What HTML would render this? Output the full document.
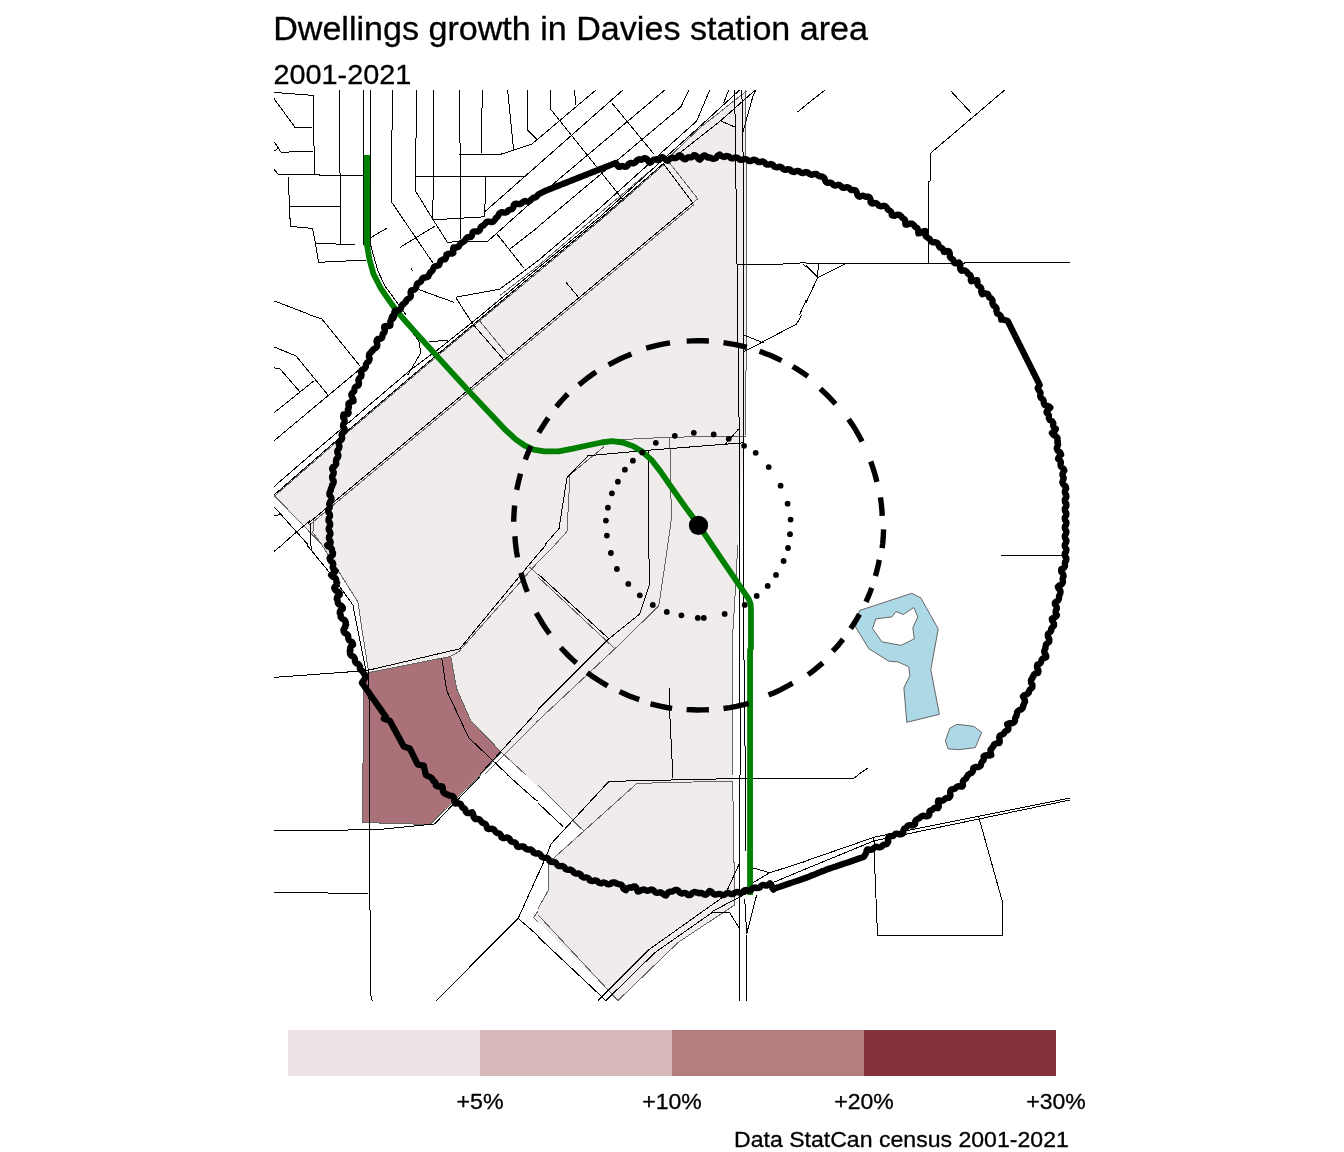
<!DOCTYPE html>
<html lang="en"><head><meta charset="utf-8"><title>Dwellings growth in Davies station area</title>
<style>
html,body{margin:0;padding:0;background:#fff;}
body{width:1344px;height:1152px;overflow:hidden;position:relative;font-family:"Liberation Sans",Arial,sans-serif;color:#000;}
svg{position:absolute;left:0;top:0;}
text{font-family:"Liberation Sans",Arial,sans-serif;fill:#000;stroke:#000;stroke-width:0.3px;}
</style></head><body>
<svg width="1344" height="1152" viewBox="0 0 1344 1152">
<rect width="1344" height="1152" fill="#fff"/>
<defs><clipPath id="mapclip"><rect x="274" y="90" width="797" height="911"/></clipPath></defs>
<g clip-path="url(#mapclip)">

<path d="M746.5 91 L700 127.8 L663 162.5 L664 163.5 L600 219.6 L429.8 361.4 L349.9 429.3 L274.4 495.7 L321.9 544.8 L357.9 601.9 L361.9 628.9 L367.9 670.8 L450.7 656.4 L456.7 688.8 L470.7 720.7 L501.7 752.6 L583.9 830.9 L554 857.9 L548 862.8 L548 890.8 L534 917.8 L617.9 1000.6 L677.8 942.7 L734.7 904.8 L732.7 781 L732.7 634.8 L737 560 L743.5 446 L745.5 437 L746.5 91 Z" fill="#f1ecec"/>
<path d="M363.9 672.8 L450.7 656.8 L456.7 688.8 L470.7 720.7 L501.7 752.6 L429.8 824.5 L362.3 822.5 L362.9 774.6 Z" fill="#aa7278"/>
<path d="M859.5 610.5 L911.8 593.3 L920.8 597.9 L938.2 628.9 L930.8 669.8 L939.4 714.3 L906.8 722.3 L903.9 687.8 L909.8 675.8 L908.8 666.8 L897.9 661.8 L888.9 661.2 L868.9 648.8 L855.5 626.9 Z M875.9 618.9 L891.9 616.9 L895.9 611.5 L903.3 614.5 L913.8 607.5 L917.8 616.9 L912.8 627.9 L914.4 638.8 L900.9 645.4 L881.9 641.8 L872.5 628.5 Z" fill="#add8e6" fill-rule="evenodd" stroke="#666" stroke-width="1"/>
<path d="M948.2 749 L945.4 740.7 L949.8 728.3 L956.8 724.3 L973.7 726.3 L981.7 732.3 L975.3 747.6 L959.8 749.6 Z" fill="#add8e6" stroke="#666" stroke-width="1"/>
<g fill="none" stroke="#666" stroke-width="1" shape-rendering="crispEdges">
<path d="M745.7 90 L746.7 314.6 M668.8 161.9 L697.8 198.8 L692.8 202.8 M479.7 321 L507.6 354.9 M274.4 495.7 L321.9 544.6 M313.9 518.6 L312.9 532.6 L321.9 544.6 M746.3 315 L745.7 434.8 M616.9 439.8 L669.8 437.2 L745.7 436.2 M669.8 437.2 L671.4 518.6 L667.8 544.6 M603.9 446.8 L570 474.7 L567 531.6 L555 544.6 M321.9 545 L357.9 601.9 L361.9 628.9 L368.3 669.8 M367.9 672.8 L450.7 656.4 L458.7 651.8 L538 562 M484.7 774.6 L538 720.7 M501.7 752.6 L525.6 774.6 M529.6 567 L538 574.9 M363.9 672.8 L362.9 774.6 M450.7 656.4 L456.7 688.8 L470.7 720.7 L501.7 752.6 L479.7 774.6 M667.8 545 L658.8 605.9 L614.9 648.8 L538 720.7 M538 576.9 L614.9 648.8 M538 562 L555 545 M737.7 545 L735.7 584.9 L732.7 634.8 L732.7 774.6 M538 910.8 L533.6 917.8 L538 921.7 M362.3 775 L362.3 822.5 L429.8 824.5 L480.7 775 M732.7 781 L636.9 783.4 L554 857.9 L548 862.8 L548 890.8 L538 908.8 M538 785 L583.9 830.9 M572.9 821.3 L583.9 830.9 M538 914.8 L617.9 1000.6 L677.8 942.7 L734.7 904.8 L732.7 781 M274.4 496.2 L349.9 430.3 L429.8 362.4 L600 220.6 L664 164.5 M500 295.5 L538 265.9 L600 212.9 L650 171 M664 162 L700 127.8 L746.5 91 M309.5 525 L694 204.5"/>
</g>
<g fill="none" stroke="#000" stroke-width="1" shape-rendering="crispEdges">
<path d="M274 92.4 L313.5 95.4 L314.3 175.2 M274 98.6 L295.4 127.9 L311.9 127.9 M274.4 141.9 L281 152.3 L312.9 151.1 M274.4 150.9 L278 148.5 M274 169.3 L278.4 174.4 L314.3 174.8 L339.9 175.8 L363.5 175.8 M339.5 90 L339.5 166.9 L340.3 175.8 L340.3 244.3 M363.3 90 L363.3 244.7 M370.5 90 L370.5 244.7 L377.8 270.7 L384.8 285.7 L397.8 303.6 L405.8 314.6 M288.4 176.8 L289.4 206.2 L290.4 226.4 L312.5 228.4 L315.5 243.7 L318.5 262.3 L365.9 260.1 M289.4 206.2 L340.3 206.2 M315.5 243.7 L354.9 244.3 M392.4 90 L392.4 129.9 L391.4 130.9 L391.4 201.8 L432.8 262.7 M416.4 90 L416.4 137.9 L415.4 138.9 L415.4 190.8 L432.8 219.2 L447.3 242.1 L487.7 241.3 L538 196.4 M433.8 90 L433.8 198.8 L432.8 200.8 L432.8 219.2 M459.7 90 L459.7 142.9 L460.7 143.9 L460.7 238.7 M415.4 176.4 L525.6 176.4 M485.7 176.4 L484.7 216.8 L433.8 219.8 M484.7 211.8 L538 164.9 M482.3 90 L481.3 152.9 M507.6 90 L513.6 149.9 M527.6 90 L527.6 129.9 L537.6 139.9 M459.3 154.3 L500.7 154.3 L531.6 144.3 L538 138.9 M370.5 237.7 L386.8 228.2 M400.2 247.3 L434.8 226.2 M496.7 233.7 L523.6 267.7 M509.6 249.3 L538 227.2 M455.7 297.2 L499.7 289.2 L538 260.7 M455.7 297.5 L473.2 324.6 L503.7 359.6 M418.8 289.6 L453.7 302.2 M274.4 301 L309.9 314.6 M411.8 268.3 L412.2 270.7 M550.4 90 L550.4 109 L623.9 200.8 M574.5 90 L575.9 105 M538 138.9 L595.9 90 M538 164.9 L622.9 90 M611.9 103 L653.8 153.9 M538 196.8 L664.8 90 M688.8 90 L680.8 107 L538 226.8 M709.7 90 L696.8 120.9 L600 207.9 L538 260.7 M728.7 90 L723.7 103 M734.7 90 L735.7 164.9 L737.7 314.6 M741.7 90 L742.9 124.9 L743.7 314.6 M755.7 90 L752.7 97 L742.7 132.9 M719.7 120.5 L734.7 126.9 M662.8 162.9 L692.8 202.8 M566 282.3 L577.9 296.6 M737.7 264.3 L777.6 264.3 L806 262.7 M803.6 264.3 L806 267.1 M797.6 112 L806 105 M806 300.6 L799.6 314.6 M806 105 L825 90 M950.8 91 L970.8 112.6 M1004.7 90 L930.4 153.3 L930.4 180.8 L928.8 181.8 L928.4 262.7 M806 263.1 L964.8 263.1 L964.8 262.1 L1070 262.1 M806 265.7 L817.6 277.1 M818.4 263.7 L817.6 277.1 M844.9 264.1 L817.6 277.7 L806 302.6 M309.9 315 L321.9 319 L359.9 365.9 M274 346.9 L296 355.9 L327.9 394.9 M274 367.9 L280 368.9 L300 391.9 M274 412.8 L313.9 380.9 M274 440.8 L364.9 364.9 M399.8 315 L418.8 341 L420.8 352.9 L407.8 374.9 M428.8 341.6 L447.7 340.4 M437.7 352.9 L441.7 351.9 M274 506.7 L307.9 544.6 M274 515.3 L282 514.7 M282 544.6 L309.9 520.6 L310.9 544.6 M737.7 315 L738.7 404.8 L739.7 442.8 L739.7 544.6 M743.7 315 L743.7 544.6 M743.7 335 L763.7 343 M743.7 351.9 L796.6 324 L801.6 315 M587.9 455.8 L645.8 450.4 L743.7 442.8 M648.8 450.4 L648.8 544.6 M725.7 443.8 L738.7 428.8 M587.9 455.8 L567 477.7 L559 528.6 L545 544.6 M274 551.4 L282 545 M306.9 545 L329.9 573 L352.9 604.9 L357.9 630.9 L365.9 670.8 M310.9 545 L311.9 551 M274 677.4 L363.9 670.8 M365.9 670.8 L459.7 648.8 L538 554 M368.9 668.8 L369.3 774.6 M441.7 657.8 L446.7 690.7 L468.7 737.7 L507.6 774.6 M479.7 774.6 L538 710.7 M739.7 545 L739.7 662.8 L740.5 774.6 M743.7 545 L743.7 656.8 L744.5 664.8 L744.5 724.7 L745.7 774.6 M648.8 545 L649.4 584.9 L639.8 613.9 L608.9 638.8 L538 709.7 M538 573.9 L608.9 638.8 M538 554 L546 545 M669.4 687.8 L669.8 714.7 L672.8 774.6 M1001.1 555 L1063.6 555 M857.9 774.6 L867.9 768.2 M369.5 775 L369.5 908.8 L370.5 910.8 L370.5 993.6 L372.2 1000.6 M274 830.3 L374.8 829.9 L434.8 823.9 L449.7 807.9 L479.7 777 M274 892.4 L314.9 892.8 L367.9 893.6 M436.2 1000.6 L518.2 918.4 L538 874.4 M518.2 918.4 L538 935.7 M507.6 775 L535.6 800 L538 801 M538 803 L563 826.5 M806 778 L734.7 778.6 L608.9 781.4 L551 843.9 L546 856.9 L538 874.8 M672.2 775 L672.2 778 M538 936.7 L605.9 1000.6 M597.9 1000.6 L648.8 949.7 L724.7 895.8 L739.7 862.8 M605.9 1000.6 L654.8 952.7 L711.7 912.8 L729.7 912.8 L739.7 928.7 M711.7 911.8 L743.7 894.8 L806 868.8 M752.7 882.8 L769.7 872.8 L806 861.2 M752.7 867.8 L769.7 872.8 M744.7 898.8 L746.7 933.7 L756.7 894.8 M739.7 775 L739.7 1000.6 M745.7 775 L745.7 850.9 M746.7 934.7 L746.7 1000.6 M806 778 L853.9 778 L858.3 775 M806 860.9 L873.9 837.3 L1070 798 M806 868.8 L873.9 840.9 L1070 800 M873.9 837.3 L874.9 870.8 L877.5 935.1 L1002.7 935.1 L1002.7 902.8 L978.7 816.9 M274.4 494.7 L349.9 428.8 L429.8 360.9 L538 270.6 L600 219.1 L664 163 L681.3 151.7 L720 121.3 L755 90.2 M274 486.6 L310 455.5 L410 370.4 L437 350.3 L471.7 322.8 L538 268 L600 216.8 L662 160.5 L700 126.3 L739.4 90.2 M307.9 523.6 L692.8 202.8"/>
</g>
<path d="M366.9 155 L367.1 245.6 L369.5 259.7 L373.4 273.8 L380.5 287.8 L389.1 300.3 L396.9 311.3 L412.5 329.2 L435.8 354.9 L467.7 389.9 L490.7 414.2 L505 429.5 L515.7 439.3 L524.6 445.5 L533.6 449.6 L544.3 451.4 L558.6 451.3 L572.9 448.6 L587.1 445.5 L601.4 442.5 L612.1 441.1 L622.9 442.5 L633.6 446.4 L642.5 451.8 L651.4 459.8 L660.4 471.4 L672.9 489.3 L685.4 507.1 L698.8 525.3 L720 556.8 L748.6 598.8 L750.6 604 L751 610 L751 648 L750.05 650 L750.05 895" fill="none" stroke="#008000" stroke-width="5.8" stroke-linejoin="round"/>
<path d="M366.9 155 L367 246" fill="none" stroke="#008000" stroke-width="6.2"/>
<path d="M329.9 544.6 L330.7 543.1 L330.6 541.7 L329.8 540.2 L329 538.7 L328.9 537.2 L329.6 535.7 L330.4 534.2 L330.4 532.8 L329.7 531.3 L328.7 529.8 L328.7 528.4 L329.3 526.9 L330.2 525.4 L330.2 523.9 L329.6 522.4 L328.5 521 L328.5 519.5 L328.9 518 L330 516.5 L330 515 L329.5 513.6 L328.3 512.1 L328.2 510.6 L328.6 509.1 L329.7 507.8 L329.7 506.3 L329.3 504.8 L329.2 503.6 L330.1 502.6 L330.3 501.1 L331.4 499.7 L331.4 498 L330.8 496.5 L329.5 495 L329.4 493.3 L329.9 491.8 L330.8 490.4 L330.7 488.9 L331.3 487.7 L332.1 486.5 L332.1 485 L333.3 483.8 L333.7 482.3 L333.7 480.7 L332.5 479.2 L332.1 477.7 L332.1 476.2 L333.3 474.7 L333.7 473.2 L333.7 471.8 L332.5 470.1 L332.1 468.5 L332.8 467.1 L334.6 466.2 L335.6 465 L336.3 463.7 L335.9 461.9 L336.1 460.5 L336.3 459.1 L337.6 457.9 L338.2 456.5 L338.4 455 L337.6 453.4 L337.2 451.9 L337.4 450.5 L338.5 449.2 L339.3 447.8 L339.5 446.4 L338.9 444.8 L338.6 443.2 L339.1 441.8 L340.4 440.6 L341.7 439.5 L342.2 438.1 L341.9 436.4 L341.6 434.8 L342.1 433.4 L343.3 432.2 L344.7 430.9 L344.7 429.4 L344.1 427.9 L343.1 426.4 L343.1 425 L343.6 423.5 L344.7 422.1 L344.7 420.6 L344.3 419.2 L343.1 417.5 L343.2 415.9 L343.5 414.5 L345.7 414.6 L347.1 414.2 L348.4 413.7 L348.7 412.7 L347.9 411 L347.8 409.4 L348.8 408.1 L348.9 406.6 L348.4 405 L348.5 403.5 L349.7 402.5 L351.4 401.8 L353.6 401.2 L353.5 399.5 L352.5 397.7 L351.5 396 L351.3 394.4 L352.2 393 L353.5 392 L354.3 391 L354.4 389.4 L354.7 387.9 L355.5 386.8 L357 386 L358.6 385.3 L359 383.8 L358.9 382.2 L358.3 380.4 L358.7 379.1 L359.6 377.8 L361.1 376.7 L361.5 375.4 L361.5 373.8 L360.8 372 L361.2 370.5 L362.3 369.5 L364.1 368.9 L365.1 367.9 L365.9 366.7 L365.8 365 L366.3 363.7 L367.2 362.6 L368.6 361.5 L369.4 360.2 L369.7 358.6 L368.9 356.8 L369 355.1 L369.5 353.6 L370.9 352.7 L371.4 351.4 L372.6 350.8 L373 349.7 L373.9 348.9 L375.2 348.4 L376.2 347.5 L377.1 346.4 L377.4 344.9 L377 343.3 L376.5 341.5 L376.8 340 L377.7 338.9 L379.7 339 L380.9 338.5 L382 337.8 L382.4 336.7 L382.4 335.2 L382.7 333.9 L384.1 332.9 L384.7 331.5 L384.9 330.2 L384.2 328.2 L384.2 326.5 L385.4 326 L387.4 326.1 L389.1 326 L390.4 325.5 L390.5 323.7 L390.3 321.7 L390.8 320.4 L392.1 319.3 L393.4 318.1 L394 316.7 L393.7 315 L392.2 316.3 L391.6 318.1 L393.5 317.2 L394.2 315.9 L394.5 314.2 L394.3 312.1 L395.1 310.7 L396.7 310.3 L398.7 310.3 L399.9 309.6 L400.9 308.7 L401.2 307.2 L401.7 305.8 L402.4 304.5 L403.8 304 L404.6 302.8 L405.8 302.1 L406.1 300.6 L407 299.5 L408.2 298.8 L409.4 298 L410.5 296.9 L411 295.5 L410.7 293.7 L410.6 292 L411.1 290.6 L412.9 290 L414.6 289.6 L415.6 288.6 L416.2 287.3 L416.5 285.7 L416.9 284.5 L417.4 283.4 L418.6 282.9 L420.1 282.2 L421.2 281.2 L421.6 279.4 L422.6 278.2 L423.9 277.4 L425.7 277.6 L427.2 277.1 L428.4 276.3 L428.9 274.9 L429.6 273.8 L430.2 272.3 L431.6 271.5 L432.6 270.3 L433.2 268.8 L433.6 267.5 L434.4 266.6 L435.6 266 L437.3 265.9 L438.7 265.4 L439.5 264.2 L440 262.6 L440.4 261 L441.6 260.1 L443.1 259.5 L445 259.4 L445.8 258.2 L446.3 256.7 L446.4 254.6 L447.9 253.9 L449.8 253.6 L452 253.6 L453.4 252.9 L453.2 250.8 L453.1 248.9 L453.5 247.5 L455.5 247.5 L457.4 247.3 L458.8 246.6 L459.5 244.9 L460.7 243.9 L461.3 242.7 L462.5 242.3 L463.5 241.6 L464.8 240.8 L465.5 239.4 L466.4 238 L467.6 237.2 L469.5 237.1 L471.2 236.8 L472 235.6 L472.3 233.8 L472.6 232 L474.1 231.3 L476 231.4 L477.8 231.5 L479.2 230.9 L480.1 229.5 L480.4 227.8 L481.1 226.7 L482.3 225.9 L483.6 225.5 L484.3 224.3 L485.4 223.5 L486.4 222.1 L488 221.6 L489.7 221.7 L491.5 222.2 L493.1 221.7 L494.2 220.6 L495.2 219.5 L495.8 218 L497 217.3 L498 216.3 L498.6 214.8 L499.3 213.4 L500.6 212.6 L502.2 212.1 L504.1 212.7 L505.6 212.6 L507.1 212.1 L508.1 210.5 L509.3 209.8 L510.8 209.5 L512.1 209.1 L512.9 208.2 L513.5 207 L513.6 205.2 L514.6 204.1 L516.2 203.6 L518 204 L519.7 204.2 L521.1 203.8 L522.3 202.4 L523.6 201.4 L525.1 200.9 L526.8 201.5 L528.5 201.6 L530 201.1 L531 199.6 L532.2 198.8 L533.3 197.7 L535.1 197.6 L536.4 196.8 L537.4 195.5 L538.3 194.3 L539.7 193.7 L541 193 L542.3 192.3 L543.7 191.7 L545 191 L546.4 190.4 L547.8 189.9 L549.2 189.3 L550.6 188.8 L552 188.2 L553.3 187.7 L554.7 187.1 L556.1 186.6 L557.5 186 L558.9 185.5 L560.3 184.9 L561.7 184.4 L563.1 183.8 L564.5 183.3 L565.9 182.7 L567.2 182.2 L568.6 181.6 L570 181.1 L571.4 180.5 L572.8 180 L574.2 179.4 L575.6 178.9 L577 178.3 L578.4 177.8 L579.8 177.2 L581.1 176.7 L582.5 176.1 L583.9 175.6 L585.3 175 L586.7 174.5 L588.1 173.9 L589.5 173.4 L590.9 172.8 L592.3 172.3 L593.7 171.7 L595 171.2 L596.4 170.6 L597.8 170.1 L599.2 169.5 L600.6 169 L602 168.4 L603.4 167.9 L604.8 167.3 L606.2 166.8 L607.6 166.2 L608.9 165.7 L610.3 165.1 L611.7 164.6 L613.1 164 L614.5 163.5 L615.9 162.9 L616.8 164.4 L617.7 165.9 L618.7 166.9 L620 166.9 L621.5 166.2 L622.9 165.9 L624.5 166.8 L626.2 166.7 L627.5 165.9 L628.4 164.1 L629.7 163.3 L631.2 162.9 L633 163.4 L634.5 162.9 L635.8 162.1 L636.7 160.4 L638 159.6 L639.5 159.2 L641.2 159.8 L642.5 159.3 L643.8 158.4 L645.1 158.1 L646.4 158.7 L647.5 159.7 L648.5 161.6 L649.7 162.7 L651.3 162.1 L652.7 160.3 L654.1 159.6 L655.6 159.4 L657.5 160.1 L658.9 159.7 L660.3 158.7 L661.8 157.1 L663.3 157.6 L664.8 158.8 L666.3 160.2 L667.8 160.7 L669.3 159.3 L670.7 158.1 L672.1 157.6 L673.9 158.2 L675.5 158.2 L676.9 157.6 L678.3 155.9 L679.9 155.1 L681.1 155.9 L682.1 157.7 L683.3 158.7 L684.5 159.4 L685.8 159.2 L687 157.8 L688.3 157.2 L689.8 157.4 L691.3 157.4 L692.6 156.8 L693.8 155.2 L695.1 155.2 L696.3 155.9 L697.4 157.3 L698.5 159 L699.8 159.7 L701 158.6 L702.1 156.8 L703.2 155.9 L704.4 155.3 L705.7 155.7 L706.7 156.9 L707.9 157.7 L709.4 157.4 L710.7 157.7 L711.7 158.5 L713.1 158.8 L714.5 158.7 L715.9 158.1 L717 156.5 L718.2 155.2 L719.6 154.5 L721.3 155.9 L722.9 156.7 L724.4 157 L726.2 156 L727.8 156.1 L729.3 156.7 L730.6 158.1 L732.1 158.4 L733.6 158.3 L735.3 157.4 L736.8 157.6 L738.3 158.3 L739.6 159.7 L741.1 159.9 L742.7 159.7 L744.3 158.9 L745.8 159.1 L747.2 159.7 L748.6 160.9 L750.1 161.1 L751.7 160.7 L753.3 159.7 L754.8 159.9 L756.2 160.5 L757.6 161.7 L759 162.1 L760.5 162 L762.2 161.4 L763.6 161.8 L764.9 162.8 L766 164.2 L767.4 164.7 L769 164.6 L770.7 164 L772.1 164.4 L773.4 165.3 L774.5 166.8 L776 167.2 L777.5 167.3 L779.2 166.6 L780.6 166.9 L781.9 167.6 L783 169.1 L784.4 169.7 L785.8 169.9 L787.5 169.1 L789 169.3 L790.4 169.8 L791.5 171.4 L792.9 171.9 L794.4 172 L796 171.1 L797.5 170.9 L798.9 171.1 L800.2 172.3 L801.6 173 L803 173.2 L804.6 172.5 L806.1 172 L807.6 172.3 L809 173.6 L810.3 174.5 L811.8 174.8 L813.5 174.1 L815.2 173.8 L816.7 174.1 L817.9 175.5 L819.2 176.2 L820.6 176.5 L822.2 176.5 L823.5 177.2 L824.5 178.2 L824.9 179.9 L825.5 181.4 L826.6 182.5 L828 182.9 L829.8 182.5 L831.2 182.8 L832.4 183.9 L833.5 185.1 L835 185.5 L836.6 185.3 L838.3 184.7 L839.7 185.1 L841 186.2 L842.2 187.5 L843.6 187.9 L845.2 187.6 L846.9 187.1 L848.4 187.5 L849.6 188.5 L850.7 189.8 L852.1 190.1 L853.8 190 L855.4 190.3 L856.4 191.5 L857 193.2 L857.4 195.1 L858.5 196.3 L859.9 196.8 L861.7 195.8 L863.3 195.6 L864.6 196.5 L866.1 196.8 L867.6 196.5 L869 196.8 L870 198 L870.6 199.6 L870.5 202 L871.4 203.4 L873.2 203.5 L875.2 203 L876.6 203.4 L877.8 204.4 L878.9 205.8 L880.4 206.3 L882 206.1 L883.8 205.7 L885.4 206.2 L886.5 207.3 L887.4 208.4 L888.1 209.8 L889.6 210.5 L890.8 211.4 L891.6 212.8 L891.7 215.1 L893 215.7 L894.5 215.8 L896.2 215 L897.8 214.6 L899.3 214.8 L900.4 215.7 L901.4 216.5 L902 217.7 L903.3 218.4 L904.5 219.3 L905.2 220.6 L905.2 222.5 L905.4 224.5 L907 224.7 L908.9 224.1 L910.6 223.5 L912.1 223.7 L913.3 224.6 L914.3 225.5 L914.9 226.7 L916.1 227.5 L917.4 228.2 L918 229.5 L918.2 231.3 L918.4 233.4 L919.9 233.2 L921.8 232.3 L923.7 231.2 L925.2 231 L925.4 233.1 L925.4 235.1 L926 236.4 L927.2 237.3 L928.4 238.2 L929.7 238.9 L930.4 240.3 L931.5 241.6 L932.9 242.4 L934.9 242.2 L936.5 242.5 L937.9 243.4 L938.5 245.1 L939.1 246.4 L939.9 247.6 L941.5 247.9 L942.6 248.7 L943.4 249.8 L943.7 251.9 L944.7 252 L946 251.7 L947.7 250.8 L949 251.4 L949.7 252.8 L949.9 254.6 L949.8 256.4 L950.4 257.7 L951.7 258.8 L953.1 259.5 L953.6 260.7 L953.9 262.6 L955 263.3 L956.6 263.3 L959 262.5 L959.8 263.4 L960.4 264.9 L960.2 266.7 L960.1 268.5 L960.7 269.9 L961.7 270.8 L963.8 270.3 L965.3 270.6 L966.3 271.4 L967.3 272.3 L967.8 273.6 L968.8 274.4 L970.2 275.1 L970.8 276.4 L971 277.9 L970.8 280 L971.3 281.3 L973.1 281 L975.6 280.1 L977.2 280.1 L977.5 282 L977.4 284.1 L978 285.4 L979.4 286.4 L980.8 287.5 L981.4 288.9 L981.2 290.9 L981.5 292.7 L982.2 294.2 L984.5 293.5 L986.2 293.5 L987.6 293.8 L988.4 295 L988.8 296.5 L989.5 297.7 L991.1 298.4 L992.1 299.6 L992.7 300.9 L992.3 302.8 L992.7 304.3 L993.4 305.6 L995.1 306.4 L996.1 307.6 L996.7 308.9 L996.3 310.8 L996.7 312.3 L997.3 313.7 L999 314.4 L1000.1 315.2 L1000.8 316.3 L1001 317.9 L1001.2 319.7 L1003.2 319.5 L1004.7 320 L1006.2 320.5 L1007.7 321 L1008.4 322.3 L1009 323.7 L1009.7 325 L1010.4 326.3 L1011 327.7 L1011.7 329 L1012.4 330.3 L1013 331.6 L1013.7 333 L1014.4 334.3 L1015 335.6 L1015.7 337 L1016.4 338.3 L1017 339.6 L1017.7 341 L1018.4 342.3 L1019 343.6 L1019.7 345 L1020.4 346.3 L1021 347.6 L1021.7 349 L1022.4 350.3 L1023 351.6 L1023.7 352.9 L1024.4 354.3 L1025 355.6 L1025.7 356.9 L1026.4 358.3 L1027 359.6 L1027.7 360.9 L1028.4 362.3 L1029 363.6 L1029.7 364.9 L1030.4 366.3 L1031 367.6 L1031.7 368.9 L1032.4 370.3 L1033 371.6 L1033.7 372.9 L1034.4 374.2 L1035 375.6 L1035.7 376.9 L1036.4 378.2 L1037 379.6 L1037.7 380.9 L1038.4 382.2 L1039 383.6 L1039.7 384.9 L1038.7 386.4 L1037.7 387.9 L1038.2 389.3 L1039 390.6 L1040.1 391.8 L1040.6 393 L1040.3 394.7 L1040.2 396.3 L1040.7 397.7 L1042 398.7 L1043.2 399.7 L1043.7 401 L1043.7 402.7 L1044.2 404.3 L1045.3 405.3 L1047.2 405.8 L1049.1 406.5 L1050.4 407.6 L1048.7 409.1 L1047.3 410.4 L1046.6 411.6 L1046.6 412.8 L1048.1 414 L1048.9 415.2 L1048.8 416.8 L1048.9 418.5 L1049.7 419.9 L1051.3 420.7 L1052.5 421.7 L1053.3 423.1 L1053.1 424.9 L1053.3 426.3 L1054.1 427.5 L1055.9 428.8 L1055.4 430.1 L1054.2 431.4 L1051.9 432.9 L1052.7 434 L1053.8 435.3 L1055.7 436 L1056.7 437 L1057.6 438.2 L1057.3 439.8 L1057.8 440.9 L1057.3 442.4 L1058.1 443.8 L1057.9 445.2 L1057.2 446.8 L1056.7 448.2 L1057.2 449.7 L1058 451 L1059.8 452 L1060.7 453.4 L1061.2 454.7 L1059.4 456.2 L1058.5 457.5 L1058 458.9 L1059.7 460.1 L1060.5 461.3 L1061 462.5 L1060.5 464.2 L1060.6 465.7 L1061.2 467 L1062.7 468 L1063.8 469.2 L1064.4 470.6 L1063.4 472.1 L1062.5 473.6 L1062.4 475 L1062.9 476.4 L1063.7 477.8 L1063.5 479.2 L1062.8 480.7 L1062.3 482.2 L1062.8 483.6 L1063.7 484.8 L1065.3 485.8 L1065.9 487.2 L1066.2 488.6 L1065 490.3 L1064.8 491.8 L1065 493.3 L1066.2 494.7 L1066.4 496.3 L1066.1 497.8 L1064.9 499.3 L1064.8 500.8 L1065.1 502.3 L1066.3 503.8 L1066.4 505.3 L1066.1 506.8 L1064.9 508.3 L1064.8 509.9 L1065.2 511.4 L1066.3 512.9 L1066.4 514.4 L1066 515.9 L1064.8 517.4 L1064.8 518.9 L1065.2 520.4 L1066.4 521.9 L1066.4 523.4 L1066 525 L1064.8 526.5 L1064.8 528 L1065.3 529.5 L1066.4 531 L1066.4 532.5 L1065.9 534 L1064.8 535.5 L1064.8 537 L1065.3 538.6 L1066.4 540.1 L1066.4 541.6 L1065.8 543.1 L1064.8 544.6 L1064.8 546.1 L1065.3 547.5 L1066.4 549 L1066.4 550.4 L1066 551.9 L1064.8 553.3 L1064.8 554.8 L1065.1 556.3 L1066.3 557.7 L1066.4 559.2 L1066.2 560.7 L1065 562 L1064.8 563.3 L1065 564.8 L1065 566.2 L1064.4 567.3 L1063.4 568.2 L1061.3 568.9 L1061.1 570.4 L1061.3 571.9 L1062.7 573.4 L1063.4 574.8 L1063.6 576.4 L1062.8 577.9 L1062.6 579.3 L1062.8 580.7 L1063 582.2 L1062.3 583.6 L1061.3 584.7 L1059.1 585.5 L1057.8 586.7 L1058.5 588.5 L1060.2 590.2 L1060.6 591.7 L1060.3 593.3 L1059.8 594.8 L1059 596 L1059.1 597.6 L1058.8 599.2 L1058 600.6 L1056.1 601.5 L1054.8 602.7 L1054.9 604.3 L1056.2 605.9 L1056.8 607.4 L1056.9 608.8 L1055.8 610.4 L1055.6 611.8 L1055.7 613.2 L1057 615 L1056.4 616.2 L1055.4 617.1 L1053.4 617.8 L1051.8 618.7 L1052 620.4 L1053.3 622.2 L1054 623.8 L1054.1 625.4 L1053 626.7 L1051.9 627.8 L1051.1 629 L1051.2 630.7 L1050.3 632 L1049 632.9 L1047.9 634 L1047.8 635.5 L1048 637 L1049.2 638.6 L1049.4 640.1 L1049.3 641.6 L1048.2 642.6 L1046.9 643.5 L1045.9 644.5 L1045.8 645.9 L1045.4 647.1 L1045.5 648.4 L1044.8 649.7 L1044.2 651.1 L1044.4 652.5 L1045.2 653.9 L1046.2 655.6 L1046.3 657.1 L1044.6 658 L1042.7 658.6 L1041.6 659.7 L1041.2 661.5 L1040.6 663 L1039.5 664 L1037.3 664.6 L1036.9 666.2 L1037.1 667.8 L1038.3 669.8 L1038.5 671.5 L1038.1 673 L1035.9 673.2 L1034.6 673.9 L1033.7 674.9 L1033.4 676.4 L1032.4 677.2 L1032.3 678.5 L1031.1 679.7 L1030.9 681.2 L1031.1 682.8 L1032.3 684.4 L1032.5 686 L1032.3 687.5 L1031.1 688.6 L1029.9 689.5 L1029.1 690.8 L1028.9 692.7 L1027.7 693.8 L1026.1 694.5 L1024.1 695.2 L1022.9 696.4 L1024 698.3 L1024.9 700.1 L1025.1 701.6 L1024.1 703 L1023.9 704.5 L1023 705.5 L1023.1 707.2 L1022.3 708.5 L1021.2 709.6 L1019.4 709.9 L1018.1 710.9 L1017.1 712.1 L1017.1 713.8 L1016.4 715 L1016.4 716.5 L1015.3 717.5 L1015 718.8 L1015.1 720.3 L1014.7 721.7 L1013.6 722.6 L1012.2 723.3 L1010.1 723 L1008.4 723.5 L1007.1 724.3 L1008.1 726.4 L1008.4 728.1 L1008.3 729.6 L1007.3 730.5 L1005.7 731 L1004.5 731.9 L1004 733.6 L1002.7 734.4 L1001 734.9 L999.6 735.9 L999.2 737.5 L999.5 739.5 L999.8 741.5 L999.3 743.2 L997 743.2 L995.3 743.7 L994 744.6 L993.6 746.2 L992.4 747 L991.9 748.4 L990.6 749.4 L990.4 751 L990.8 752.9 L991.3 755.1 L989.8 755.6 L988 755.5 L986 755.2 L984.6 755.6 L983.5 756.5 L984 758.6 L983.6 760.2 L982.3 761.3 L981.4 762.6 L981.1 764.1 L980.7 765.6 L979.5 766.6 L978.2 767.2 L976.1 766.9 L974.5 767.3 L973.2 768 L973.2 770 L972.7 771.6 L971.9 772.8 L970.5 773.3 L969.2 774.1 L967.9 774.9 L967.3 776.3 L966.4 777.5 L965.9 778.8 L964.6 779.5 L963.4 780.5 L962.8 781.7 L962.8 783.4 L963 785.3 L962.3 786.6 L960.5 786.7 L958.6 786.2 L957.2 786.5 L956 787.4 L955.1 788.8 L953.7 789.2 L952 789.2 L950.7 790 L950.1 791.6 L950.2 793.4 L950.5 795.4 L949.9 797 L948.7 797.9 L946.9 797.8 L945.5 798.2 L944.6 799.4 L943.4 800.4 L942.1 800.8 L940.2 800.5 L938.2 800.5 L937.9 801.9 L938.3 803.7 L938.9 805.6 L938.7 807 L938 808.2 L935.7 807.6 L934.1 808.1 L933 809.1 L931.9 810.1 L930.3 810.5 L929.5 811.3 L929.3 812.6 L929.4 814.5 L928.8 815.8 L927.2 816.3 L925.5 816.4 L923.6 815.6 L922 816 L920.7 816.9 L919.7 818.2 L918.3 818.5 L917.1 819.5 L915.8 820.3 L915 821.8 L915.1 824.2 L913.9 825 L912.5 825.6 L910.6 825.2 L909.1 825.1 L907.6 825.7 L906.7 827 L905.9 827.9 L904.5 828.4 L903.8 829.4 L903.3 830.7 L903.4 832.4 L902.8 833.5 L901.5 834.2 L900 834.5 L898.2 833.8 L896.7 833.6 L895.3 833.9 L894.1 835.1 L893 836 L891.7 836.3 L889.9 836 L888.8 836.6 L888.1 838 L887.9 839.6 L888.3 841.4 L887.7 842.8 L886.8 844 L885.5 844.4 L884 844.6 L882.7 845.3 L881.7 846.8 L880.1 847.3 L878.5 847.3 L876.7 846.6 L875.2 847 L873.8 848 L872.7 849.4 L871.3 849.8 L869.4 849.5 L867.4 849.3 L866.5 850.7 L866.3 852.7 L865.5 854.1 L864.7 855.5 L863.9 856.9 L862.5 857.4 L861.1 857.9 L859.7 858.3 L858.3 858.8 L856.9 859.3 L855.5 859.8 L854.1 860.2 L852.7 860.7 L851.3 861.2 L849.9 861.7 L848.5 862.2 L847.1 862.6 L845.7 863.1 L844.2 863.6 L842.8 864.1 L841.4 864.5 L840 865 L838.6 865.5 L837.2 866 L835.8 866.5 L834.4 866.9 L833 867.4 L831.6 867.9 L830.2 868.4 L828.8 868.8 L827.4 869.3 L826 869.8 L824.6 870.4 L823.1 870.9 L821.7 871.5 L820.3 872.1 L818.9 872.7 L817.4 873.2 L816 873.8 L814.6 874.4 L813.1 874.9 L811.7 875.5 L810.3 876.1 L808.9 876.7 L807.4 877.2 L806 877.8 L804.6 878.3 L803.2 878.8 L801.8 879.2 L800.4 879.7 L799 880.2 L797.5 880.7 L796.1 881.1 L794.7 881.6 L793.3 882.1 L791.9 882.6 L790.5 883.1 L789.1 883.5 L787.7 884 L786.3 884.5 L784.9 885 L783.5 885.5 L782.1 885.9 L780.6 886.4 L779.2 886.9 L777.8 887.4 L776.4 887.8 L775 888.3 L773.4 889.6 L772.4 888.2 L771.8 885.8 L770.9 884.3 L769.9 883.3 L768.2 884.9 L766.8 885.5 L765.5 885.6 L763.8 884.9 L762.3 885.2 L761 885.8 L759.9 887.4 L758.5 888 L757 888.2 L755.2 887.5 L753.8 887.7 L752.4 888.4 L751.3 890 L749.9 890.6 L748.3 890.7 L746.5 889.9 L745 890.1 L743.6 890.9 L742.4 892.4 L740.9 892.8 L739.3 892.7 L737.6 892 L736 892.2 L734.6 892.9 L733.2 894.1 L731.6 894.2 L730 893.7 L728.4 892.9 L726.9 893.1 L725.4 894.1 L723.9 895 L722.4 895.1 L720.8 894.3 L719.3 893.8 L717.8 894 L716.3 894.5 L714.8 894.6 L713.6 894.1 L712.4 892.8 L711.1 891.5 L709.6 891 L708.2 892.5 L706.8 894.1 L705.3 894.8 L703.8 894.4 L702.3 893.3 L700.8 892.8 L699.2 893.3 L697.7 892.6 L696.4 892.5 L694.9 891.9 L693.4 892.3 L692 893.2 L690.8 894.7 L689.3 895.2 L687.8 895.1 L686.5 893.5 L685.1 893 L683.7 893 L681.9 893.6 L680.5 893.1 L679.3 892.1 L678.2 890.5 L676.7 890 L675.2 889.9 L673.9 890.6 L672.7 891.4 L671.2 891.7 L669.5 891.6 L668.2 892.4 L667.1 893.9 L665.9 895.6 L664.4 895.1 L662.9 893.9 L661.6 892.7 L660.2 892.2 L658.5 892.6 L656.8 892.8 L655.4 892.4 L654.2 891 L652.9 889.9 L651.4 889.5 L649.8 890 L648.3 890.7 L646.8 890.8 L645.3 890 L643.8 889.5 L642.4 889.6 L640.8 890.7 L639.2 891.4 L637.6 891.5 L637 889.3 L636.2 887.5 L635.1 886.3 L633.8 886.3 L632.5 887.3 L631.3 887.8 L629.8 887.3 L628.4 887.7 L627.2 888.4 L625.8 890.3 L624.5 889.6 L623.3 888.4 L622.8 886.4 L621.8 885.2 L620.5 884.3 L618.8 884.3 L617.6 883.6 L616.3 883.5 L615 882.4 L613.4 882.4 L611.9 882.7 L610.4 884 L608.9 884.3 L607.4 884.2 L606 883.2 L604.5 882.6 L603.1 882.5 L601.4 883.3 L599.9 883.1 L598.5 882.5 L597.3 881 L595.9 880.5 L594.4 880.4 L592.6 881.1 L591.1 880.9 L589.7 880.3 L588.8 878.5 L587.6 877.7 L586.1 877.3 L584.3 877.7 L582.9 877.2 L581.6 876.3 L580.8 874.6 L579.6 873.7 L578.2 873.3 L576.3 873.7 L574.9 873.3 L573.6 872.6 L572.8 871 L571.6 870.1 L570.3 869.5 L568.5 869.9 L567 869.7 L565.6 869.1 L564.7 867.5 L563.6 866.5 L562.3 865.9 L560.6 866.2 L559 866.1 L557.6 865.5 L556.7 864 L555.7 862.6 L554.4 861.9 L552.6 862.1 L551 861.9 L549.6 861.1 L548.8 859.5 L547.7 858.3 L546.4 857.6 L544.5 857.8 L543 857.5 L541.6 856.8 L540.8 855.1 L539.7 853.9 L538.4 853.2 L536.4 853.6 L534.9 853.3 L533.5 852.6 L532.7 850.8 L531.5 849.8 L530 849.3 L528.1 849.7 L526.7 849.3 L525.4 848.5 L524.2 846.8 L522.7 846.3 L520.9 846.5 L518.9 847 L517.2 846.6 L516.5 844.9 L515.8 843.2 L514.7 842.3 L513 842 L511.4 841.6 L510.3 840.6 L509.7 838.8 L508.3 837.8 L506.8 837.4 L504.7 838.1 L502.9 838 L501.4 837.4 L501 835.4 L500.2 834.3 L499.2 833.3 L497.5 833.2 L496.2 832.5 L495.3 831.6 L494.5 830.2 L493.4 829.2 L492.1 828.7 L490.4 828.9 L488.6 829.1 L487.2 828.6 L486.6 826.8 L486.2 825 L485.2 823.8 L483.7 823.2 L482.2 822.7 L481.3 821.6 L480.3 820.3 L479.2 819.2 L477.7 818.8 L475.5 819.2 L474.4 818.3 L473.6 817.1 L473.4 815.1 L473 813.5 L472.1 812.2 L470.1 812.8 L468.3 813.1 L466.7 812.8 L465.8 811.7 L465.4 809.9 L464.6 808.5 L463 808 L461.9 806.9 L461.4 805.3 L460.6 803.9 L459.2 803.3 L457.4 803.2 L455.2 803.6 L454.5 802.2 L454.1 800.5 L454.3 798.5 L453.6 797.1 L452.6 796.1 L451.3 795.7 L449.8 795.7 L448.5 795.3 L447.6 794.3 L446.1 794.3 L445.3 793.4 L443.8 792.9 L443.1 791.5 L442.7 789.9 L442.9 787.8 L442.2 786.4 L440.4 786.2 L438.2 786.6 L436.8 786.1 L435.7 785.1 L435.6 783 L434.8 781.6 L433.3 780.9 L432.6 779.4 L431.8 778 L430.3 777.2 L428.8 776.5 L427.3 775.8 L425.8 775 L425.5 773.4 L425.1 771.9 L424.8 770.3 L424.5 768.7 L424.1 767.2 L423.8 765.6 L422.3 765.4 L420.8 765.1 L419.3 764.9 L417.8 764.6 L417.1 763.3 L416.5 761.9 L415.8 760.6 L415.1 759.3 L414.5 757.9 L413.8 756.6 L413.1 755.3 L412.5 753.9 L411.8 752.6 L411.1 751.3 L410.5 749.9 L409.8 748.6 L408.3 748.1 L406.8 747.6 L405.3 747.1 L403.8 746.6 L403.1 745.3 L402.4 744 L401.7 742.7 L401 741.4 L400.3 740.1 L399.6 738.8 L398.9 737.5 L398.2 736.2 L397.5 734.9 L396.8 733.7 L396.1 732.4 L395.4 731.1 L394.7 729.8 L394 728.5 L393.3 727.2 L392.6 725.9 L391.9 724.6 L391.2 723.3 L390.5 722 L389.8 720.7 L388.3 720.2 L386.8 719.7 L385.3 719.2 L383.8 718.7 L384.8 717.7 L385.8 716.7 L384.9 715.5 L384.1 714.3 L383.2 713.1 L382.4 711.9 L381.5 710.6 L380.7 709.4 L379.8 708.2 L379 707 L378.1 705.8 L377.3 704.6 L376.4 703.4 L375.6 702.2 L374.7 701 L373.9 699.8 L373 698.5 L372.1 697.3 L371.3 696.1 L370.4 694.9 L369.6 693.7 L368.7 692.5 L367.9 691.3 L367 690.1 L366.2 688.9 L365.3 687.6 L364.5 686.4 L363.6 685.2 L362.8 684 L361.9 682.8 L362.7 681.6 L363.5 680.4 L364.3 679.2 L365.1 678 L365.9 676.8 L365.1 675.6 L364.3 674.3 L363.5 673.1 L362.7 671.8 L361.9 670.6 L360.4 669.8 L359.8 668.4 L360 666.5 L359.3 665.2 L358.3 664.1 L356.5 663.5 L355.5 662.4 L354.9 661 L355 659.2 L354.4 657.8 L353.5 656.6 L351.7 656 L350.6 654.9 L349.9 653.5 L350.2 652 L349.7 650.8 L350.5 649.7 L350.1 648.3 L350.5 647.1 L351.3 645.9 L353.1 644.8 L352.9 643.5 L352.1 642.1 L350.5 641.2 L349.1 640.3 L348.4 639.1 L348.3 637.5 L348.2 635.8 L347.4 634.6 L346.1 633.7 L344.5 632.9 L343.7 631.6 L343.4 630.1 L343.7 629 L344.7 628 L345.4 626.9 L345.2 625.8 L346.1 624.8 L345.5 623.8 L345.8 622.3 L345.2 620.9 L344.3 619.7 L342.6 619.1 L341.4 618.1 L340.6 616.9 L340.8 615.2 L340.5 614 L339.7 613 L339.8 611.9 L340.1 610.8 L341.1 609.8 L342.8 608.9 L342.8 607.5 L341.9 606.1 L340.3 605.1 L338.7 604.4 L337.8 603 L337.7 601.4 L337.6 600 L336.7 598.9 L336.9 597.9 L337.1 596.9 L338.1 595.8 L339.7 594.9 L339.8 593.6 L338.9 592.3 L337.6 591.3 L335.8 590.7 L334.9 589.5 L334.2 588.1 L334.5 586.9 L335.7 586 L336.6 584.9 L336.5 583.9 L337.1 582.8 L336.3 581.9 L336.4 580.5 L336 579.1 L335.2 577.9 L333.5 577.2 L332 576.1 L331.1 575 L333 573.6 L334.7 572.3 L335.7 571 L334.1 569.6 L333.1 568.3 L332.6 567 L333.2 565.3 L333.2 563.7 L332.7 562.3 L331.1 561.3 L330.1 559.9 L329.6 558.4 L330.1 557 L331.7 556.1 L332.7 555.1 L332.9 554 L333.1 552.9 L332.3 552 L332 550.8 L332 549.2 L331.2 548.1 L329.9 547.2 L328 546.3 L327.1 545.1 Z" fill="none" stroke="#000" stroke-width="6.3" stroke-linejoin="round"/>
<path d="M531.0 446.1 L529.4 449.4 L528.0 452.8 L526.6 456.2 L525.3 459.6 M520.5 473.7 L519.5 477.7 L518.5 481.7 L517.6 485.7 L516.7 489.8 M514.6 505.5 L514.3 509.6 L514.0 513.6 L513.8 517.7 L513.7 521.8 M514.9 536.3 L515.3 541.6 L515.9 546.9 L516.6 552.2 L517.5 557.4 M521.0 572.8 L522.4 577.7 L523.9 582.5 L525.5 587.2 L527.3 591.9 M536.2 612.8 L539.3 618.2 L542.5 623.5 L545.9 628.8 L549.6 633.9 M560.7 647.5 L564.4 651.5 L568.3 655.5 L572.3 659.4 L576.4 663.1 M587.3 672.6 L592.2 676.2 L597.3 679.6 L602.4 682.8 L607.6 685.9 M619.6 691.6 L624.4 693.8 L629.3 695.9 L634.2 697.8 L639.2 699.6 M650.5 703.9 L655.8 705.2 L661.2 706.4 L666.6 707.5 L672.1 708.4 M686.6 709.6 L692.2 709.8 L697.8 710.0 L703.3 709.9 L708.9 709.7 M723.5 708.5 L729.9 707.6 L736.3 706.4 L742.6 705.0 L748.8 703.3 M768.6 695.1 L774.8 692.5 L780.8 689.6 L786.8 686.5 L792.6 683.2 M808.1 674.7 L811.9 671.9 L815.6 668.9 L819.2 665.9 L822.8 662.9 M832.7 651.2 L835.4 648.3 L838.1 645.4 L840.6 642.3 L843.1 639.3 M850.6 628.5 L853.0 625.0 L855.2 621.5 L857.4 617.9 L859.5 614.2 M866.0 601.8 L867.5 598.4 L869.0 594.9 L870.4 591.4 L871.7 587.9 M875.4 576.0 L876.5 572.0 L877.5 568.0 L878.5 563.9 L879.3 559.9 M882.1 548.1 L882.7 543.5 L883.1 538.8 L883.4 534.1 L883.6 529.4 M882.2 515.9 L882.0 511.3 L881.6 506.7 L881.1 502.0 L880.4 497.4 M876.9 481.9 L875.6 476.8 L874.1 471.6 L872.5 466.5 L870.7 461.5 M862.1 441.5 L859.0 435.8 L855.8 430.1 L852.3 424.6 L848.6 419.2 M835.5 404.0 L831.9 400.0 L828.2 396.2 L824.3 392.4 L820.4 388.8 M807.8 376.4 L804.2 373.8 L800.4 371.3 L796.7 368.9 L792.8 366.5 M781.6 360.6 L776.2 358.0 L770.8 355.6 L765.2 353.4 L759.6 351.3 M746.8 347.4 L741.1 345.9 L735.3 344.6 L729.4 343.6 L723.5 342.7 M708.9 341.0 L703.4 340.8 L697.8 340.7 L692.2 340.9 L686.7 341.1 M670.0 342.8 L664.0 343.9 L658.0 345.1 L652.1 346.6 L646.2 348.2 M631.4 354.0 L625.6 356.4 L619.8 359.0 L614.2 361.9 L608.6 364.9 M596.0 371.9 L591.6 375.0 L587.3 378.2 L583.1 381.5 L579.0 384.9 M567.8 394.0 L564.8 397.1 L561.9 400.2 L559.1 403.4 L556.3 406.7 M548.3 417.9 L545.8 421.5 L543.4 425.2 L541.1 428.9 L538.8 432.7" fill="none" stroke="#000" stroke-width="5.4"/>
<g fill="#000"><circle cx="606.9" cy="535.6" r="2.9"/><circle cx="605.9" cy="520.6" r="2.9"/><circle cx="607.9" cy="507.7" r="2.9"/><circle cx="611.9" cy="493.3" r="2.9"/><circle cx="617.9" cy="481.7" r="2.9"/><circle cx="624.9" cy="469.7" r="2.9"/><circle cx="632.9" cy="460.7" r="2.9"/><circle cx="642.2" cy="452.4" r="2.9"/><circle cx="655.8" cy="442.8" r="2.9"/><circle cx="674.8" cy="435.8" r="2.9"/><circle cx="693.8" cy="432.8" r="2.9"/><circle cx="713.7" cy="434.4" r="2.9"/><circle cx="728.7" cy="438.8" r="2.9"/><circle cx="744.1" cy="445.8" r="2.9"/><circle cx="755.7" cy="452.8" r="2.9"/><circle cx="768.7" cy="467.1" r="2.9"/><circle cx="780.6" cy="485.7" r="2.9"/><circle cx="787.6" cy="503.7" r="2.9"/><circle cx="790.6" cy="519.6" r="2.9"/><circle cx="790" cy="534.2" r="2.9"/><circle cx="610.9" cy="553" r="2.9"/><circle cx="616.9" cy="569" r="2.9"/><circle cx="628.3" cy="583.9" r="2.9"/><circle cx="639.8" cy="595.3" r="2.9"/><circle cx="652.8" cy="604.9" r="2.9"/><circle cx="666.8" cy="611.9" r="2.9"/><circle cx="681.4" cy="615.3" r="2.9"/><circle cx="697.8" cy="617.9" r="2.9"/><circle cx="703.8" cy="617.9" r="2.9"/><circle cx="724.7" cy="613.9" r="2.9"/><circle cx="744.7" cy="604.9" r="2.9"/><circle cx="756.7" cy="595.9" r="2.9"/><circle cx="767.7" cy="585.9" r="2.9"/><circle cx="776" cy="574.9" r="2.9"/><circle cx="783.6" cy="561" r="2.9"/><circle cx="788" cy="548" r="2.9"/></g>
<circle cx="698.5" cy="525.4" r="9.6" fill="#000"/>
</g>
<rect x="288" y="1030" width="192" height="46" fill="#ece2e3"/>
<rect x="480" y="1030" width="192" height="46" fill="#d7b9bb"/>
<rect x="672" y="1030" width="192" height="46" fill="#b47e80"/>
<rect x="864" y="1030" width="192" height="46" fill="#83323d"/>
<text x="456.45" y="1109" font-size="22" textLength="47.1" lengthAdjust="spacingAndGlyphs">+5%</text>
<text x="642.25" y="1109" font-size="22" textLength="59.5" lengthAdjust="spacingAndGlyphs">+10%</text>
<text x="834.25" y="1109" font-size="22" textLength="59.5" lengthAdjust="spacingAndGlyphs">+20%</text>
<text x="1026.25" y="1109" font-size="22" textLength="59.5" lengthAdjust="spacingAndGlyphs">+30%</text>
<text x="273.2" y="40" font-size="33" textLength="594.8" lengthAdjust="spacingAndGlyphs">Dwellings growth in Davies station area</text>
<text x="273.4" y="84" font-size="27.5" textLength="138" lengthAdjust="spacingAndGlyphs">2001-2021</text>
<text x="734" y="1146.5" font-size="22" textLength="334.8" lengthAdjust="spacingAndGlyphs">Data StatCan census 2001-2021</text>
</svg></body></html>
